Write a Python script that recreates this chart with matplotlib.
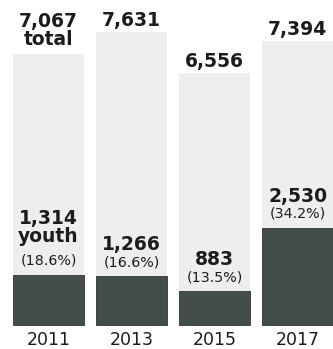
import matplotlib
matplotlib.use("Agg")
import matplotlib.pyplot as plt

years = ["2011", "2013", "2015", "2017"]
totals = [7067, 7631, 6556, 7394]
youth = [1314, 1266, 883, 2530]
youth_pct = ["(18.6%)", "(16.6%)", "(13.5%)", "(34.2%)"]

LIGHT = "#eeeeee"
DARK = "#444e49"
INK = "#1c1c1c"

plt.rcParams["font.family"] = ["DejaVu Sans"]

fig = plt.figure(figsize=(3.33, 3.49), dpi=100)
ax = fig.add_axes([0, 0, 1, 1])
ax.set_axis_off()

x = list(range(len(years)))
width = 0.85
ax.bar(x, totals, width=width, color=LIGHT, linewidth=0)
ax.bar(x, youth, width=width, color=DARK, edgecolor="#2e3532", linewidth=0.6)

ax.set_xlim(-0.584, 3.425)
ax.set_ylim(-625, 8464)

bold = dict(ha="center", va="baseline", fontsize=13.5, fontweight="bold", color=INK,
            textcoords="offset pixels")

for i, (yr, tot, yo, pct) in enumerate(zip(years, totals, youth, youth_pct)):
    # year under each bar
    ax.annotate(yr, (i, 0), xytext=(0, -15), textcoords="offset pixels",
                ha="center", va="center", fontsize=12.5, color=INK)

    # total above the light bar
    if i == 0:
        ax.annotate("total", (i, tot), xytext=(0, 9), **bold)
        ax.annotate(f"{tot:,}", (i, tot), xytext=(0, 27), **bold)
    else:
        ax.annotate(f"{tot:,}", (i, tot), xytext=(0, 6), **bold)

    # youth count and share above the dark bar
    ax.annotate(pct, (i, yo), xytext=(0, 10), textcoords="offset pixels",
                ha="center", va="baseline", fontsize=10.3, color=INK)
    if i == 0:
        ax.annotate("youth", (i, yo), xytext=(0, 33), **bold)
        ax.annotate(f"{yo:,}", (i, yo), xytext=(0, 51), **bold)
    else:
        ax.annotate(f"{yo:,}", (i, yo), xytext=(0, 26), **bold)

fig.savefig("out.png", dpi=100, facecolor="white")
